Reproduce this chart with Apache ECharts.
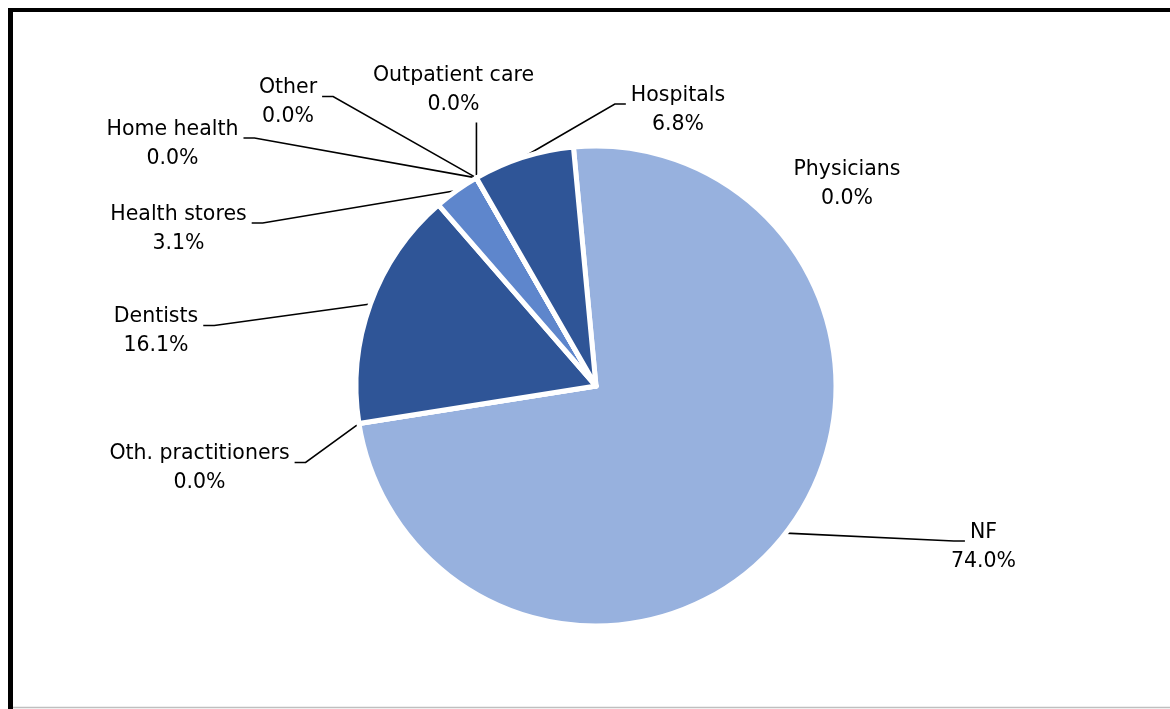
<!DOCTYPE html>
<html><head><meta charset="utf-8">
<script src="https://cdn.jsdelivr.net/npm/echarts@6/dist/echarts.min.js"></script>
<style>html,body{margin:0;padding:0;background:#fff}#c{width:1170px;height:709px}</style>
</head><body><div id="c"></div>
<script>
// ---- data ----
const categories = ['Physicians', 'NF', 'Oth. practitioners', 'Dentists', 'Health stores', 'Home health', 'Other', 'Outpatient care', 'Hospitals'];
const shares = [0.0, 74.0, 0.0, 16.1, 3.1, 0.0, 0.0, 0.0, 6.8];

// ---- styling / layout (not data) ----
const sliceColors = ['#2F5597', '#97B1DE', '#2F5597', '#2F5597', '#5E86CC', '#2F5597', '#2F5597', '#2F5597', '#2F5597'];
const labelCentres = [[847, 184.5], [983.5, 547], [199.5, 468.5], [156, 331.5], [178.5, 229], [172.5, 144], [288, 102.5], [453.5, 90.5], [678, 110]];
const showLeader = [false, true, true, true, true, true, true, true, true];
const FONT = 'DejaVu Sans';
const FONT_SIZE = 20.5;

const ctx = document.createElement('canvas').getContext('2d');
ctx.font = FONT_SIZE + 'px "' + FONT + '"';
function firstLineWidth(t) { return ctx.measureText(t).width; }

const chart = echarts.init(document.getElementById('c'), null, { renderer: 'canvas' });
chart.setOption({
  animation: false,
  backgroundColor: '#fff',
  graphic: [
    { type: 'line', shape: { x1: 8, y1: 10, x2: 1170, y2: 10 }, style: { stroke: '#000', lineWidth: 4 } },
    { type: 'line', shape: { x1: 10.5, y1: 8, x2: 10.5, y2: 709 }, style: { stroke: '#000', lineWidth: 5 } },
    { type: 'line', shape: { x1: 13, y1: 707.5, x2: 1170, y2: 707.5 }, style: { stroke: '#bfbfbf', lineWidth: 1.5 } }
  ],
  series: [{
    type: 'pie',
    center: [596, 386],
    radius: 240,
    startAngle: 95.4,
    clockwise: true,
    avoidLabelOverlap: false,
    minShowLabelAngle: 0,
    stillShowZeroSum: true,
    emphasis: { disabled: true },
    itemStyle: { borderColor: '#fff', borderWidth: 5 },
    label: {
      show: true, position: 'outside',
      formatter: p => p.name + '\n' + p.value.toFixed(1) + '%',
      fontFamily: FONT, fontSize: FONT_SIZE, lineHeight: 29, color: '#000', align: 'center'
    },
    labelLine: { show: true, length: 20, length2: 10, lineStyle: { color: '#000', width: 1.6 } },
    data: categories.map((n, i) => ({
      name: n, value: shares[i],
      itemStyle: { color: sliceColors[i] },
      labelLine: { show: showLeader[i] }
    })),
    labelLayout: function (p) {
      const i = p.dataIndex;
      const c = labelCentres[i];
      const w = p.labelRect.width, h = p.labelRect.height;
      const out = { x: c[0], y: c[1], align: 'center', verticalAlign: 'middle' };
      const a = p.labelLinePoints && p.labelLinePoints[0];
      if (a && showLeader[i]) {
        const y0 = c[1] - h / 2, y1 = c[1] + h / 2;
        const bx0 = c[0] - w / 2, bx1 = c[0] + w / 2;
        if (a[0] >= bx0 && a[0] <= bx1) {
          const ey = a[1] > y1 ? y1 + 3 : y0 - 3;
          out.labelLinePoints = [a, [a[0], ey], [a[0], ey]];
        } else {
          const fw = firstLineWidth(categories[i]);
          const x0 = c[0] - fw / 2, x1 = c[0] + fw / 2;
          const side = a[0] > x1 ? 1 : -1;
          const ex = side > 0 ? x1 + 5 : x0 - 5;
          const ey = c[1] - 6;
          out.labelLinePoints = [a, [ex + side * 11, ey], [ex, ey]];
        }
      }
      return out;
    }
  }]
});
</script></body></html>
